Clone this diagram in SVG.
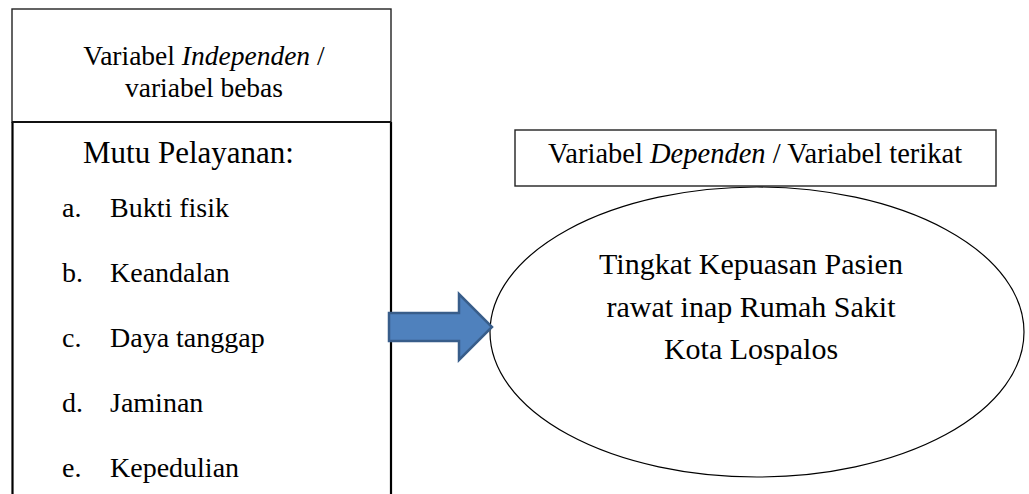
<svg xmlns="http://www.w3.org/2000/svg" width="1029" height="494" viewBox="0 0 1029 494">
<style>
text{font-family:"Liberation Serif","Times New Roman",serif;fill:#000}
.hdr{font-size:27.5px}
.mutu{font-size:31px}
.li{font-size:28px}
.dep{font-size:28.5px}
.ell{font-size:30px}
.box{fill:#fff;stroke:#222;stroke-width:1.4}
</style>
<rect width="1029" height="494" fill="#fff"/>
<g id="independent-header">
<rect class="box" x="12" y="9" width="379" height="113"/>
<text class="hdr" x="204" y="65" text-anchor="middle">Variabel <tspan font-style="italic">Independen</tspan> /</text>
<text class="hdr" x="204" y="97" text-anchor="middle">variabel bebas</text>
</g>
<g id="independent-list">
<path d="M12.5 122 V494 M391 122 V494" fill="none" stroke="#000" stroke-width="2.2"/>
<line x1="12" y1="122" x2="391" y2="122" stroke="#111" stroke-width="2"/>
<text class="mutu" x="83" y="163">Mutu Pelayanan:</text>
<text class="li" x="62" y="217">a.</text><text class="li" x="110" y="217">Bukti fisik</text>
<text class="li" x="62" y="282">b.</text><text class="li" x="110" y="282">Keandalan</text>
<text class="li" x="62" y="347">c.</text><text class="li" x="110" y="347">Daya tanggap</text>
<text class="li" x="62" y="412">d.</text><text class="li" x="110" y="412">Jaminan</text>
<text class="li" x="62" y="477">e.</text><text class="li" x="110" y="477">Kepedulian</text>
</g>
<g id="dependent-label">
<rect class="box" x="515" y="130" width="481" height="56"/>
<text class="dep" x="755" y="163" text-anchor="middle">Variabel <tspan font-style="italic">Dependen</tspan> / Variabel terikat</text>
</g>
<g id="dependent-ellipse">
<ellipse cx="757" cy="332" rx="267" ry="145" fill="#fff" stroke="#000" stroke-width="1.2"/>
<text class="ell" x="751" y="274" text-anchor="middle">Tingkat Kepuasan Pasien</text>
<text class="ell" x="751" y="317" text-anchor="middle">rawat inap Rumah Sakit</text>
<text class="ell" x="751" y="359" text-anchor="middle">Kota Lospalos</text>
</g>
<g id="connectors">
<polygon points="389,313 459,313 459,294 492,327 459,360 459,341 389,341" fill="#4F81BD" stroke="#385D8A" stroke-width="2.5" stroke-linejoin="miter"/>
</g>
</svg>
